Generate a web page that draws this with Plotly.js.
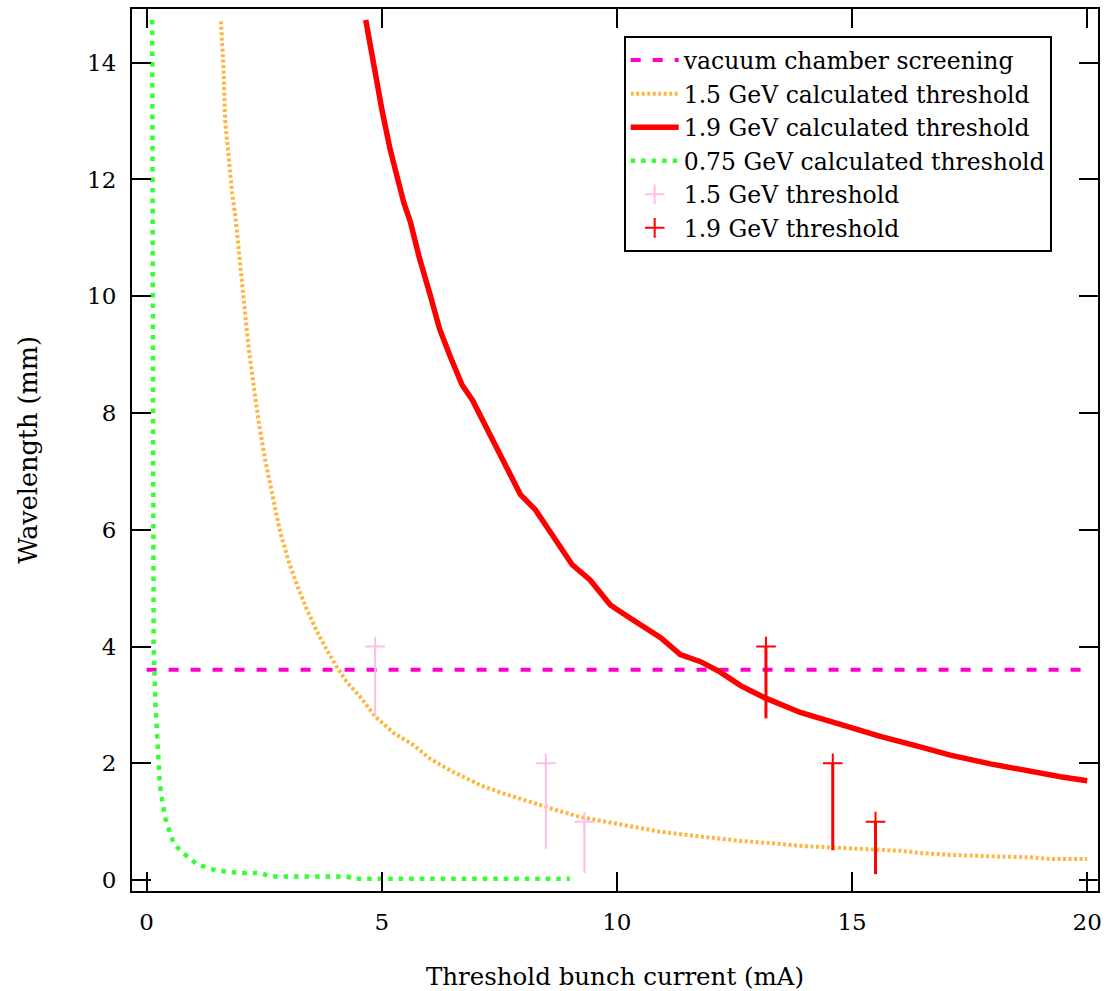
<!DOCTYPE html>
<html>
<head>
<meta charset="utf-8">
<script src="https://cdn.plot.ly/plotly-3.0.1.min.js"></script>
<style>
  html, body { margin: 0; padding: 0; background: #fff; }
  #chart { width: 1112px; height: 991px; }
</style>
</head>
<body>
<div id="chart"></div>
<script>
// Vacuum chamber screening cutoff (mm)
const screeningX = [0, 20];
const screeningY = [3.6, 3.6];

// 1.5 GeV calculated threshold
const calc15X = [1.58, 1.64, 1.67, 1.75, 1.82, 1.89, 1.96, 2.06, 2.17, 2.28, 2.38, 2.52, 2.67, 2.84, 3.02, 3.20, 3.41, 3.62, 3.84, 4.05, 4.26, 4.54, 4.86, 5.25, 5.68, 6.04, 6.50, 7.11, 7.60, 8.16, 8.70, 9.22, 9.80, 10.29, 10.90, 11.50, 12.00, 12.63, 13.30, 14.00, 14.76, 15.40, 16.04, 16.50, 17.10, 18.17, 18.80, 19.23, 20.0];
const calc15Y = [14.71, 13.83, 13.01, 12.34, 11.76, 11.35, 10.77, 9.94, 9.11, 8.45, 7.87, 7.20, 6.62, 5.96, 5.46, 5.05, 4.63, 4.26, 3.93, 3.64, 3.39, 3.14, 2.80, 2.52, 2.31, 2.07, 1.86, 1.62, 1.48, 1.33, 1.20, 1.08, 0.99, 0.91, 0.83, 0.77, 0.72, 0.67, 0.63, 0.58, 0.55, 0.53, 0.50, 0.46, 0.43, 0.40, 0.39, 0.36, 0.36];

// 1.9 GeV calculated threshold
const calc19X = [4.66, 4.83, 5.01, 5.18, 5.36, 5.47, 5.61, 5.79, 6.03, 6.23, 6.45, 6.71, 6.93, 7.20, 7.52, 7.95, 8.27, 8.69, 9.05, 9.43, 9.86, 10.18, 10.50, 10.93, 11.35, 11.78, 12.20, 12.63, 13.15, 13.90, 14.77, 15.60, 16.45, 17.09, 17.94, 18.79, 19.43, 20.0];
const calc19Y = [14.73, 13.92, 13.17, 12.51, 11.93, 11.60, 11.27, 10.69, 10.02, 9.44, 8.98, 8.48, 8.22, 7.80, 7.28, 6.60, 6.34, 5.83, 5.40, 5.14, 4.71, 4.54, 4.37, 4.15, 3.86, 3.74, 3.56, 3.33, 3.12, 2.87, 2.66, 2.46, 2.28, 2.14, 1.99, 1.86, 1.77, 1.70];

// 0.75 GeV calculated threshold
const calc075X = [0.12, 0.13, 0.13, 0.15, 0.19, 0.21, 0.24, 0.28, 0.33, 0.40, 0.50, 0.58, 0.78, 1.07, 1.50, 2.00, 2.42, 2.63, 4.26, 4.40, 9.00];
const calc075Y = [14.73, 10.0, 5.65, 4.0, 3.0, 2.6, 2.0, 1.65, 1.37, 1.05, 0.80, 0.62, 0.46, 0.27, 0.16, 0.12, 0.12, 0.06, 0.06, 0.02, 0.02];

// Measured thresholds with lower error bars
const meas15X = [4.86, 8.49, 9.31];
const meas15Y = [4.0, 2.0, 1.0];
const meas15ErrLow = [1.2, 1.47, 0.88];

const meas19X = [13.17, 14.59, 15.50];
const meas19Y = [4.0, 2.0, 1.0];
const meas19ErrLow = [1.23, 1.49, 0.90];

const FONT = 'DejaVu Serif, Liberation Serif, serif';

const traces = [
  {
    x: screeningX, y: screeningY, mode: 'lines', name: 'vacuum chamber screening',
    line: { color: 'rgb(255,0,204)', width: 4, dash: '10px,12px' }
  },
  {
    x: calc15X, y: calc15Y, mode: 'lines', name: '1.5 GeV calculated threshold',
    line: { color: 'rgb(255,182,64)', width: 4, dash: '3px,2.5px' }
  },
  {
    x: calc19X, y: calc19Y, mode: 'lines', name: '1.9 GeV calculated threshold',
    line: { color: 'rgb(255,0,0)', width: 5.5 }
  },
  {
    x: calc075X, y: calc075Y, mode: 'lines', name: '0.75 GeV calculated threshold',
    line: { color: 'rgb(51,255,51)', width: 4.5, dash: '4.5px,6px' }
  },
  {
    x: meas15X, y: meas15Y, mode: 'markers', name: '1.5 GeV threshold',
    marker: { symbol: 'cross-thin-open', size: 14, color: 'rgb(255,190,230)',
              line: { color: 'rgb(255,190,230)', width: 2 } },
    error_y: { type: 'data', symmetric: false, array: [0, 0, 0], arrayminus: meas15ErrLow,
               color: 'rgb(255,190,230)', thickness: 2, width: 0 }
  },
  {
    x: meas19X, y: meas19Y, mode: 'markers', name: '1.9 GeV threshold',
    marker: { symbol: 'cross-thin-open', size: 14, color: 'rgb(255,0,0)',
              line: { color: 'rgb(255,0,0)', width: 2 } },
    error_y: { type: 'data', symmetric: false, array: [0, 0, 0], arrayminus: meas19ErrLow,
               color: 'rgb(255,0,0)', thickness: 3, width: 0 }
  }
];

const axisCommon = {
  showline: true, linecolor: '#000', linewidth: 2, mirror: 'ticks',
  ticks: 'inside', ticklen: 19, tickwidth: 2, tickcolor: '#000',
  showgrid: false, zeroline: false,
  tickfont: { family: FONT, size: 23, color: '#000' }
};

const layout = {
  width: 1112, height: 991,
  margin: { l: 132, r: 14, t: 9, b: 100, pad: 0 },
  paper_bgcolor: '#fff', plot_bgcolor: '#fff',
  font: { family: FONT, color: '#000' },
  showlegend: true,
  hovermode: false,
  xaxis: Object.assign({}, axisCommon, {
    range: [-0.31, 20.23], tick0: 0, dtick: 5, ticklabelstandoff: 9,
    title: { text: 'Threshold bunch current (mA)', font: { family: FONT, size: 24.5 }, standoff: 34 }
  }),
  yaxis: Object.assign({}, axisCommon, {
    range: [-0.188, 14.92], tick0: 0, dtick: 2, ticklabelstandoff: 9,
    title: { text: 'Wavelength (mm)', font: { family: FONT, size: 25.5 }, standoff: 42 }
  }),
  legend: {
    x: 0.509, y: 0.969, xanchor: 'left', yanchor: 'top',
    bgcolor: '#fff', bordercolor: '#000', borderwidth: 2,
    font: { family: FONT, size: 23.5, color: '#000' },
    itemwidth: 48
  }
};

Plotly.newPlot('chart', traces, layout, { staticPlot: true, displayModeBar: false });
</script>
</body>
</html>
